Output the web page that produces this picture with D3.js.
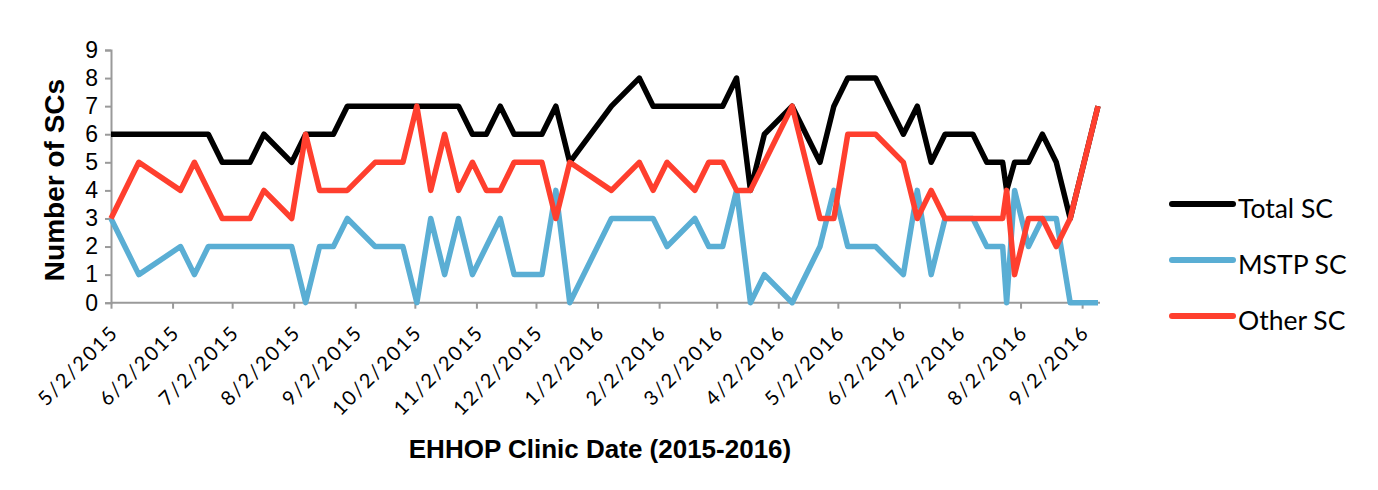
<!DOCTYPE html>
<html>
<head>
<meta charset="utf-8">
<script src="https://cdn.jsdelivr.net/npm/d3@7"></script>
<style>
  html, body { margin: 0; padding: 0; background: #fff; }
  svg { display: block; }
</style>
</head>
<body>
<svg id="chart" width="1378" height="490"></svg>
<script>
const dates = ["2015-05-02","2015-05-16","2015-06-06","2015-06-13","2015-06-20","2015-06-27","2015-07-11","2015-07-18","2015-08-01","2015-08-08",
  "2015-08-15","2015-08-22","2015-08-29","2015-09-12","2015-09-26","2015-10-03","2015-10-10","2015-10-17","2015-10-24","2015-10-31",
  "2015-11-07","2015-11-14","2015-11-21","2015-12-05","2015-12-12","2015-12-19","2016-01-09","2016-01-23","2016-01-30","2016-02-06",
  "2016-02-20","2016-02-27","2016-03-05","2016-03-12","2016-03-19","2016-03-26","2016-04-09","2016-04-23","2016-04-30","2016-05-07",
  "2016-05-21","2016-06-04","2016-06-11","2016-06-18","2016-06-25","2016-07-09","2016-07-16","2016-07-24","2016-07-26","2016-07-30",
  "2016-08-06","2016-08-13","2016-08-20","2016-08-27","2016-09-10"];
const totalSC = [6,6,6,6,6,5,5,6,5,6, 6,6,7,7,7,7,7,7,7,6, 6,7,6,6,7,5,7,8,7,7, 7,7,7,8,4,6,7,5,7,8, 8,6,7,5,6,6,5,5,4,5, 5,6,5,3,7];
const mstpSC  = [3,1,2,1,2,2,2,2,2,0, 2,2,3,2,2,0,3,1,3,1, 2,3,1,1,4,0,3,3,3,2, 3,2,2,4,0,1,0,2,4,2, 2,1,4,1,3,3,2,2,0,4, 2,3,3,0,0];
const otherSC = [3,5,4,5,4,3,3,4,3,6, 4,4,4,5,5,7,4,6,4,5, 4,4,5,5,3,5,4,5,4,5, 4,5,5,4,4,5,7,3,3,6, 6,5,3,4,3,3,3,3,4,1, 3,3,2,3,7];
const seriesNames = ["Total SC","MSTP SC","Other SC"];
const xTickLabels = ["5/2/2015","6/2/2015","7/2/2015","8/2/2015","9/2/2015","10/2/2015","11/2/2015","12/2/2015",
  "1/2/2016","2/2/2016","3/2/2016","4/2/2016","5/2/2016","6/2/2016","7/2/2016","8/2/2016","9/2/2016"];
const yTickValues = [0,1,2,3,4,5,6,7,8,9];
const xDomain = ["2015-05-02","2016-09-10"];
const yAxisTitle = "Number of SCs";
const xAxisTitle = "EHHOP Clinic Date (2015-2016)";

const colors = ["#000000","#5aaed4","#ff3f2e"];
const parseISO = d3.timeParse("%Y-%m-%d");
const parseMDY = d3.timeParse("%m/%d/%Y");

const svg = d3.select("#chart");
const x = d3.scaleTime().domain(xDomain.map(parseISO)).range([111, 1098]);
const y = d3.scaleLinear().domain([0, 9]).range([302.7, 50]);

const axisColor = "#9a9a9a";

// Y axis
const yAxis = svg.append("g").attr("transform", "translate(111,0)")
  .call(d3.axisLeft(y).tickValues(yTickValues).tickSize(6).tickPadding(7).tickFormat(d3.format("d")));
yAxis.select(".domain").attr("stroke", axisColor).attr("stroke-width", 2);
yAxis.selectAll(".tick line").attr("stroke", axisColor).attr("stroke-width", 2);
yAxis.selectAll(".tick text").attr("fill", "#000")
  .style("font-family", "'Liberation Sans', Arial, sans-serif").style("font-size", "23px");

// X axis
const xTicks = xTickLabels.map(parseMDY);
const xAxis = svg.append("g").attr("transform", "translate(0,302.7)")
  .call(d3.axisBottom(x).tickValues(xTicks).tickSize(6).tickFormat(""));
xAxis.select(".domain").attr("stroke", axisColor).attr("stroke-width", 2).attr("d", "M111,0H1100");
xAxis.selectAll(".tick line").attr("stroke", axisColor).attr("stroke-width", 2);
xAxis.selectAll(".tick").append("text")
  .attr("transform", "translate(8,31) rotate(-45)")
  .attr("text-anchor", "end")
  .attr("fill", "#000")
  .style("font-family", "Lato, 'Open Sans', sans-serif")
  .style("font-size", "20px")
  .style("letter-spacing", "2px")
  .text((d, i) => xTickLabels[i]);

// Lines
const seriesData = [totalSC, mstpSC, otherSC];
const line = d3.line().x(d => x(d.date)).y(d => y(d.v));
seriesData.forEach((vals, si) => {
  const pts = dates.map((ds, i) => ({date: parseISO(ds), v: vals[i]}));
  svg.append("path").datum(pts)
    .attr("fill", "none")
    .attr("stroke", colors[si])
    .attr("stroke-width", 5.5)
    .attr("stroke-linejoin", "round")
    .attr("d", line);
});

// Axis titles
svg.append("text")
  .attr("transform", "translate(64,180) rotate(-90)")
  .attr("text-anchor", "middle")
  .style("font-family", "'Liberation Sans', Arial, sans-serif")
  .style("font-weight", "bold").style("font-size", "28px")
  .text(yAxisTitle);

svg.append("text")
  .attr("x", 600).attr("y", 458)
  .attr("text-anchor", "middle")
  .style("font-family", "'Liberation Sans', Arial, sans-serif")
  .style("font-weight", "bold").style("font-size", "26px")
  .text(xAxisTitle);

// Legend
const legendY = [204, 260, 316];
const lg = svg.append("g");
seriesNames.forEach((name, i) => {
  lg.append("line").attr("x1", 1172).attr("x2", 1233).attr("y1", legendY[i]).attr("y2", legendY[i])
    .attr("stroke", colors[i]).attr("stroke-width", 6).attr("stroke-linecap", "round");
  lg.append("text").attr("x", 1238).attr("y", legendY[i] + 14)
    .style("font-family", "Lato, 'Open Sans', sans-serif").style("font-size", "26.5px")
    .attr("fill", "#000").text(name);
});
</script>
</body>
</html>
